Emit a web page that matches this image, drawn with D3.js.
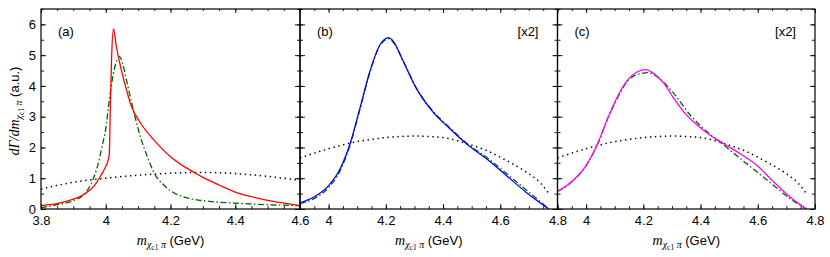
<!DOCTYPE html>
<html>
<head>
<meta charset="utf-8">
<script src="https://cdn.jsdelivr.net/npm/d3@7"></script>
<style>
  html, body { margin: 0; padding: 0; background: #fff; }
  svg { display: block; }
  .tick text { font-family: "Liberation Sans", Arial, sans-serif; font-size: 13px; fill: #000; }
  .tick line { stroke: #000; stroke-width: 0.9; }
</style>
</head>
<body>
<svg id="chart" width="830" height="257"></svg>
<script>
// ---------------- data ----------------
const panelLabels = ["(a)", "(b)", "(c)"];
const scaleNotes = ["", "[x2]", "[x2]"];
const xDomainA = [3.8, 4.6];
const xDomainBC = [3.9, 4.8];
const yDomain = [0, 6.5];
const xTicksA = [3.8, 4.0, 4.2, 4.4, 4.6];
const xTicksBC = [4.0, 4.2, 4.4, 4.6, 4.8];
const yTicks = [0, 1, 2, 3, 4, 5, 6];

// panel (a)
const aRed = [[3.80,0.11],[3.86,0.20],[3.90,0.32],[3.935,0.49],[3.965,0.76],[3.985,1.09],[4.0,1.38],[4.006,1.53],[4.011,1.80],[4.014,3.2],[4.018,4.9],[4.024,5.85],[4.032,5.33],[4.047,4.57],[4.063,3.91],[4.078,3.37],[4.109,2.77],[4.15,2.23],[4.2,1.70],[4.25,1.33],[4.276,1.17],[4.3,1.03],[4.35,0.78],[4.4,0.55],[4.45,0.40],[4.5,0.28],[4.55,0.19],[4.6,0.11]];
const aGreen = [[3.80,0.04],[3.85,0.14],[3.90,0.27],[3.935,0.50],[3.955,0.82],[3.975,1.41],[3.99,2.1],[4.0,2.6],[4.011,3.55],[4.027,4.57],[4.037,4.88],[4.043,4.95],[4.052,4.73],[4.068,4.0],[4.088,3.1],[4.109,2.28],[4.13,1.66],[4.15,1.16],[4.18,0.77],[4.21,0.53],[4.26,0.34],[4.32,0.25],[4.4,0.19],[4.5,0.14],[4.6,0.11]];
const aDot = [[3.80,0.65],[3.9,0.87],[4.0,1.0],[4.1,1.1],[4.2,1.16],[4.3,1.19],[4.4,1.15],[4.5,1.06],[4.6,0.93]];

// panel (b)
const bBlue = [[3.9,0.2],[3.947,0.38],[4.0,0.76],[4.04,1.3],[4.075,2.12],[4.109,3.26],[4.144,4.46],[4.179,5.33],[4.21,5.57],[4.226,5.45],[4.261,4.8],[4.307,3.91],[4.365,3.15],[4.424,2.61],[4.482,2.12],[4.552,1.63],[4.621,1.09],[4.691,0.54],[4.77,0.0]];
const bGreen = [[3.9,0.18],[3.947,0.33],[4.0,0.70],[4.04,1.24],[4.075,2.08],[4.109,3.22],[4.144,4.44],[4.179,5.3],[4.21,5.53],[4.226,5.42],[4.261,4.8],[4.307,3.93],[4.365,3.18],[4.424,2.64],[4.482,2.14],[4.552,1.68],[4.621,1.16],[4.691,0.62],[4.77,0.0]];
const bDot = [[3.9,1.66],[4.0,1.96],[4.075,2.14],[4.2,2.32],[4.3,2.37],[4.4,2.32],[4.482,2.13],[4.552,1.9],[4.621,1.58],[4.691,1.2],[4.738,0.87],[4.77,0.5]];

// panel (c)
const cMagenta = [[3.9,0.57],[3.947,0.87],[4.0,1.41],[4.04,2.12],[4.075,2.93],[4.109,3.64],[4.144,4.18],[4.179,4.46],[4.208,4.53],[4.237,4.40],[4.272,4.08],[4.307,3.59],[4.342,3.15],[4.389,2.72],[4.435,2.39],[4.482,2.12],[4.54,1.79],[4.598,1.41],[4.645,0.98],[4.714,0.38],[4.77,0.0]];
const cGreen = [[3.9,0.57],[3.947,0.86],[4.0,1.41],[4.04,2.1],[4.075,2.93],[4.109,3.6],[4.144,4.15],[4.179,4.37],[4.217,4.43],[4.249,4.29],[4.307,3.75],[4.365,3.04],[4.424,2.5],[4.482,2.07],[4.54,1.63],[4.598,1.2],[4.656,0.76],[4.714,0.33],[4.77,0.0]];
const cDot = [[3.9,1.66],[4.0,1.96],[4.075,2.14],[4.2,2.32],[4.3,2.37],[4.4,2.32],[4.482,2.13],[4.552,1.9],[4.621,1.58],[4.691,1.2],[4.738,0.87],[4.77,0.5]];

// ---------------- layout ----------------
const svg = d3.select("#chart");
const plotTop = 9, plotBottom = 209;
const panels = [
  { x0: 41, x1: 300, dom: xDomainA, ticks: xTicksA, series: [
      {d: aDot, style: "dot"}, {d: aGreen, style: "dashdot"}, {d: aRed, style: "solid", color: "#ff0000"} ] },
  { x0: 300, x1: 557.5, dom: xDomainBC, ticks: xTicksBC, series: [
      {d: bDot, style: "dot"}, {d: bGreen, style: "dashdot"}, {d: bBlue, style: "solid", color: "#0000ff"} ] },
  { x0: 557.5, x1: 815, dom: xDomainBC, ticks: xTicksBC, series: [
      {d: cDot, style: "dot"}, {d: cGreen, style: "dashdot"}, {d: cMagenta, style: "solid", color: "#ff00ff"} ] }
];

const y = d3.scaleLinear().domain(yDomain).range([plotBottom, plotTop]);
const yMinor = d3.range(0, 6.51, 0.5);

panels.forEach((p, i) => {
  const x = d3.scaleLinear().domain(p.dom).range([p.x0, p.x1]);
  const xMinor = d3.range(Math.round(p.dom[0]*20), Math.round(p.dom[1]*20)+1).map(v => v/20);

  const clipId = "clip" + i;
  svg.append("clipPath").attr("id", clipId).append("rect")
    .attr("x", p.x0).attr("y", plotTop).attr("width", p.x1 - p.x0).attr("height", plotBottom - plotTop);

  const g = svg.append("g");

  // bottom axis major + minor
  const bMaj = g.append("g").attr("transform", `translate(0,${plotBottom})`)
    .call(d3.axisBottom(x).tickValues(p.ticks).tickSizeInner(-5).tickSizeOuter(0).tickPadding(7)
      .tickFormat(d => d3.format("")(+d.toFixed(1))));
  bMaj.select(".domain").remove();
  g.append("g").attr("transform", `translate(0,${plotBottom})`)
    .call(d3.axisBottom(x).tickValues(xMinor).tickSizeInner(-3).tickSizeOuter(0).tickFormat(""))
    .select(".domain").remove();
  // top axis (mirror)
  g.append("g").attr("transform", `translate(0,${plotTop})`)
    .call(d3.axisTop(x).tickValues(p.ticks).tickSizeInner(-4).tickSizeOuter(0).tickFormat(""))
    .select(".domain").remove();
  g.append("g").attr("transform", `translate(0,${plotTop})`)
    .call(d3.axisTop(x).tickValues(xMinor).tickSizeInner(-2).tickSizeOuter(0).tickFormat(""))
    .select(".domain").remove();

  // left axis
  const lMaj = g.append("g").attr("transform", `translate(${p.x0},0)`)
    .call(d3.axisLeft(y).tickValues(yTicks).tickSizeInner(-5).tickSizeOuter(0).tickPadding(5)
      .tickFormat(i === 0 ? d3.format("d") : ""));
  lMaj.select(".domain").remove();
  g.append("g").attr("transform", `translate(${p.x0},0)`)
    .call(d3.axisLeft(y).tickValues(yMinor).tickSizeInner(-3).tickSizeOuter(0).tickFormat(""))
    .select(".domain").remove();
  // right axis
  g.append("g").attr("transform", `translate(${p.x1},0)`)
    .call(d3.axisRight(y).tickValues(yTicks).tickSizeInner(-5).tickSizeOuter(0).tickFormat(""))
    .select(".domain").remove();
  g.append("g").attr("transform", `translate(${p.x1},0)`)
    .call(d3.axisRight(y).tickValues(yMinor).tickSizeInner(-3).tickSizeOuter(0).tickFormat(""))
    .select(".domain").remove();

  // curves
  const line = d3.line().x(d => x(d[0])).y(d => y(d[1])).curve(d3.curveMonotoneX);
  const cg = g.append("g").attr("clip-path", `url(#${clipId})`);
  p.series.forEach(s => {
    const path = cg.append("path").datum(s.d).attr("d", line).attr("fill", "none");
    if (s.style === "dot") {
      path.attr("stroke", "#000").attr("stroke-width", 1.5).attr("stroke-dasharray", "1.4,3.6");
    } else if (s.style === "dashdot") {
      path.attr("stroke", "#006400").attr("stroke-width", 1.3).attr("stroke-dasharray", "6,2.5,1.5,2.5");
    } else {
      path.attr("stroke", s.color).attr("stroke-width", 1.3);
    }
  });

  // frame
  g.append("rect").attr("x", p.x0).attr("y", plotTop).attr("width", p.x1 - p.x0).attr("height", plotBottom - plotTop)
    .attr("fill", "none").attr("stroke", "#000").attr("stroke-width", 1.2);

  // panel label
  g.append("text").attr("x", p.x0 + 17).attr("y", plotTop + 27)
    .attr("font-family", "Liberation Sans, Arial, sans-serif").attr("font-size", 13).text(panelLabels[i]);
  if (scaleNotes[i]) {
    g.append("text").attr("x", p.x1 - 19).attr("y", plotTop + 27).attr("text-anchor", "end")
      .attr("font-family", "Liberation Sans, Arial, sans-serif").attr("font-size", 13).text(scaleNotes[i]);
  }

  // x-axis title
  const xt = g.append("text").attr("x", (p.x0 + p.x1) / 2).attr("y", 245).attr("text-anchor", "middle");
  xt.append("tspan").attr("font-family", "Liberation Serif, serif").attr("font-style", "italic").attr("font-size", 14).text("m");
  xt.append("tspan").attr("font-family", "Liberation Serif, serif").attr("font-style", "italic").attr("font-size", 10).attr("dy", 3).text("χ");
  xt.append("tspan").attr("font-family", "Liberation Serif, serif").attr("font-size", 7.5).attr("dy", 2).text("c1");
  xt.append("tspan").attr("font-family", "Liberation Serif, serif").attr("font-style", "italic").attr("font-size", 10).attr("dy", -2).text(" π");
  xt.append("tspan").attr("font-family", "Liberation Sans, Arial, sans-serif").attr("font-size", 13).attr("dy", -3).text(" (GeV)");
});

// y-axis title
const yt = svg.append("text").attr("transform", "translate(19,111) rotate(-90)").attr("text-anchor", "middle");
yt.append("tspan").attr("font-family", "Liberation Serif, serif").attr("font-style", "italic").attr("font-size", 14).text("dΓ/dm");
yt.append("tspan").attr("font-family", "Liberation Serif, serif").attr("font-style", "italic").attr("font-size", 10).attr("dy", 3).text("χ");
yt.append("tspan").attr("font-family", "Liberation Serif, serif").attr("font-size", 7.5).attr("dy", 2).text("c1");
yt.append("tspan").attr("font-family", "Liberation Serif, serif").attr("font-style", "italic").attr("font-size", 10).attr("dy", -2).text(" π");
yt.append("tspan").attr("font-family", "Liberation Sans, Arial, sans-serif").attr("font-size", 13).attr("dy", -3).text(" (a.u.)");
</script>
</body>
</html>
